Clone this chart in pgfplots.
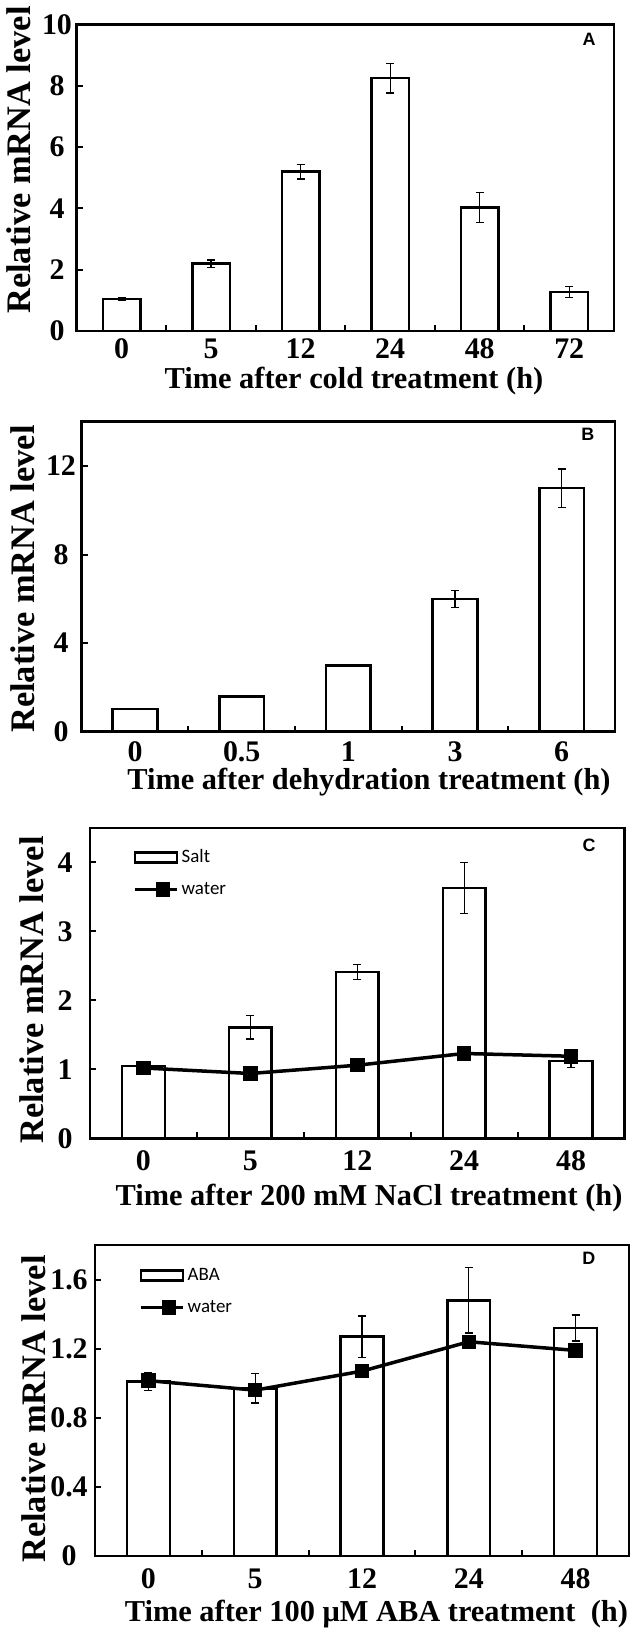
\documentclass[border=0pt]{standalone}
\usepackage{fontspec}
\setmainfont{Liberation Serif}
\newfontfamily\legfont{Carlito}
\newfontfamily\letfont{Liberation Sans}
\usepackage{pgfplots}
\pgfplotsset{compat=1.18}

\pgfplotsset{
  panel/.style={
    scale only axis,
    axis line style={line width=2.7bp},
    tick style={black, line width=2bp},
    tick align=inside,
    major tick length=6bp, minor tick length=6bp,
    xtick pos=bottom, ytick pos=left,
    major x tick style={draw=none},
    xmin=-0.5, ymin=0,
    ticklabel style={font=\fontsize{30}{30}\selectfont\bfseries},
    every axis x label/.style={anchor=base, font=\fontsize{30.5}{31}\selectfont\bfseries},
    every axis y label/.style={rotate=90, anchor=center, font=\fontsize{34.5}{35}\selectfont\bfseries},
    legend style={draw=none, fill=none, inner sep=0pt, anchor=west,
      font=\fontsize{19}{19}\selectfont\legfont,
      nodes={inner sep=0pt, text height=12bp, text depth=3bp},
      row sep=17bp, cells={anchor=west},
      /tikz/every odd column/.style={column sep=3bp}},
  },
  bars/.style={ybar, draw=black, fill=white, line width=2.5bp,
    legend image code/.code={\draw[line width=2.2bp, black, fill=white] (0bp,-5bp) rectangle (42bp,5bp);},
    error bars/y dir=both, error bars/y explicit,
    error bars/error bar style={line width=1.3bp, black},
    error bars/error mark options={rotate=90, mark size=4bp, line width=1.3bp, black}},
  water/.style={black, line width=3.5bp, mark=square*, mark size=5.5bp,
    legend image code/.code={\draw[#1, mark indices={2}] plot coordinates {(0bp,0bp) (28bp,0bp) (42bp,0bp)};}},
}

\begin{document}
\begin{tikzpicture}
\useasboundingbox (0,0) rectangle (637bp,-1631bp);

% A: cold
\begin{axis}[panel, at={(76.8bp,-331bp)}, anchor=south west,
  width=537.2bp, height=306.5bp,
  xmax=5.5, ymax=10,
  xtick={0,...,5}, xticklabels={0,5,12,24,48,72},
  minor xtick={0.5,1.5,2.5,3.5,4.5},
  ytick={0,2,4,6,8,10}, yticklabels={0,2,4,6,8,10},
  yticklabel style={anchor=center, xshift=-19.8bp},
  xticklabel style={anchor=base, yshift=-27bp},
  xlabel={Time after cold treatment (h)},
  xlabel style={at={(axis description cs:0.516,-0.186)}},
  ylabel={Relative mRNA level},
  ylabel style={at={(axis description cs:-0.1076,0.558)}},
]
\addplot[bars, bar width=0.42] table[x=x, y=y, y error=e] {
x y e
0 1.04 0.05
1 2.20 0.12
2 5.20 0.24
3 8.25 0.48
4 4.03 0.50
5 1.28 0.18
};
\node[font=\fontsize{18}{18}\selectfont\letfont\bfseries] at (rel axis cs:0.9535,0.9527) {A};
\end{axis}

% B: dehydration
\begin{axis}[panel, at={(81.7bp,-731.7bp)}, anchor=south west,
  width=533.3bp, height=310bp,
  xmax=4.5, ymax=14,
  xtick={0,...,4}, xticklabels={0,0.5,1,3,6},
  minor xtick={0.5,1.5,2.5,3.5},
  ytick={0,4,8,12}, yticklabels={0,4,8,12},
  yticklabel style={anchor=center, xshift=-20.7bp},
  xticklabel style={anchor=base, yshift=-30bp},
  xlabel={Time after dehydration treatment (h)},
  xlabel style={at={(axis description cs:0.5387,-0.188)}},
  ylabel={Relative mRNA level},
  ylabel style={at={(axis description cs:-0.111,0.4926)}},
]
\addplot[bars, bar width=0.42] table[x=x, y=y, y error=e] {
x y e
0 1.02 0.03
1 1.60 0.03
2 2.98 0.03
3 6.00 0.38
4 11.00 0.87
};
\node[font=\fontsize{18}{18}\selectfont\letfont\bfseries] at (rel axis cs:0.949,0.9587) {B};
\end{axis}

% C: salt
\begin{axis}[panel, at={(90bp,-1138.3bp)}, anchor=south west,
  width=534.5bp, height=310.3bp,
  xmax=4.5, ymax=4.5,
  xtick={0,...,4}, xticklabels={0,5,12,24,48},
  minor xtick={0.5,1.5,2.5,3.5},
  ytick={0,1,2,3,4}, yticklabels={0,1,2,3,4},
  yticklabel style={anchor=center, xshift=-25bp},
  xticklabel style={anchor=base, yshift=-32bp},
  xlabel={Time after 200 mM NaCl treatment (h)},
  xlabel style={at={(axis description cs:0.522,-0.216)}},
  ylabel={Relative mRNA level},
  ylabel style={at={(axis description cs:-0.1094,0.478)}},
  legend style={at={(axis description cs:0.0804,0.8534)}},
]
\addplot[bars, bar width=0.4] table[x=x, y=y, y error=e] {
x y e
0 1.05 0.03
1 1.61 0.17
2 2.41 0.11
3 3.63 0.37
4 1.12 0.09
};
\addlegendentry{Salt}
\addplot[water] table[x=x, y=y] {
x y
0 1.02
1 0.94
2 1.06
3 1.23
4 1.19
};
\addlegendentry{water}
\node[font=\fontsize{18}{18}\selectfont\letfont\bfseries] at (rel axis cs:0.9336,0.945) {C};
\end{axis}

% D: ABA
\begin{axis}[panel, at={(95bp,-1556bp)}, anchor=south west,
  width=534bp, height=311bp,
  xmax=4.5, ymax=1.8,
  xtick={0,...,4}, xticklabels={0,5,12,24,48},
  minor xtick={0.5,1.5,2.5,3.5},
  ytick={0,0.4,0.8,1.2,1.6}, yticklabels={0,0.4,0.8,1.2,1.6},
  yticklabel style={anchor=center, xshift=-26bp},
  xticklabel style={anchor=base, yshift=-32bp},
  xlabel={Time after 100 μM ABA treatment \ (h)},
  xlabel style={at={(axis description cs:0.527,-0.209)}},
  ylabel={Relative mRNA level},
  ylabel style={at={(axis description cs:-0.1152,0.4727)}},
  legend style={at={(axis description cs:0.0824,0.8505)}},
]
\addplot[bars, bar width=0.4] table[x=x, y=y, y error=e] {
x y e
0 1.01 0.05
1 0.97 0.085
2 1.27 0.12
3 1.48 0.19
4 1.32 0.075
};
\addlegendentry{ABA}
\addplot[water] table[x=x, y=y] {
x y
0 1.015
1 0.96
2 1.07
3 1.24
4 1.19
};
\addlegendentry{water}
\node[font=\fontsize{18}{18}\selectfont\letfont\bfseries] at (rel axis cs:0.925,0.958) {D};
\end{axis}
\end{tikzpicture}
\end{document}
